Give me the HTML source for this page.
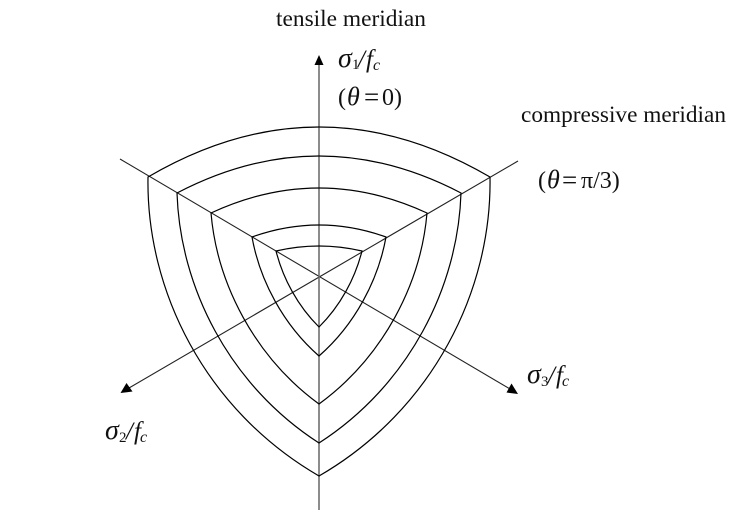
<!DOCTYPE html>
<html>
<head>
<meta charset="utf-8">
<style>
html,body{margin:0;padding:0;background:#fff;width:740px;height:512px;overflow:hidden}
svg{display:block}
text{font-family:"Liberation Serif",serif;fill:#111}
.i{font-style:italic}
</style>
</head>
<body>
<svg width="740" height="512" viewBox="0 0 740 512" xmlns="http://www.w3.org/2000/svg">
<g fill="none" stroke="#222" stroke-width="1.1">
<line x1="120" y1="159" x2="510" y2="389"/>
<line x1="518" y1="161" x2="129" y2="388"/>
</g>
<line x1="319" y1="510" x2="319" y2="64" stroke="#666" stroke-width="1.5"/>
<polygon points="319,55 314.500,65 323.500,65" fill="#000"/>
<polygon points="120.500,393 126.500,383 132.500,391.500" fill="#000"/>
<polygon points="518,394 506.500,392.500 511.500,383.500" fill="#000"/>
<g transform="translate(319,277)" fill="none" stroke="#000" stroke-width="1.2">
<path d="M-171,-100 Q0,-200 171,-100 C173,13 114,133 0,199 C-114,133 -173,13 -171,-100Z"/>
<path d="M-142,-84 Q0,-158 142,-84 C139,10 90,108 0,166 C-90,108 -139,10 -142,-84Z"/>
<path d="M-108,-64 Q0,-114 108,-64 C102,6.400 64.400,80 0,127 C-64.400,80 -102,6.400 -108,-64Z"/>
<path d="M-67,-40 Q0,-64 67,-40 C59.300,3 36,47.600 0,79 C-36,47.600 -59.300,3 -67,-40Z"/>
<path d="M-43,-26 Q0,-36 43,-26 C36,1.600 21.300,29 0,50 C-21.300,29 -36,1.600 -43,-26Z"/>
</g>
<text x="276" y="26" font-size="23" textLength="150" lengthAdjust="spacingAndGlyphs">tensile meridian</text>
<text x="521" y="122" font-size="23" textLength="205" lengthAdjust="spacingAndGlyphs">compressive meridian</text>
<text x="338" y="67" font-size="28" class="i">σ</text>
<text x="352" y="69" font-size="15">1</text>
<text x="358" y="67" font-size="25" class="i">/</text>
<text x="366" y="67" font-size="25" class="i">f</text>
<text x="373" y="70" font-size="16" class="i">c</text>
<text x="338" y="105" font-size="24">(</text>
<text x="347" y="105" font-size="26" class="i">θ</text>
<text x="364" y="106" font-size="27">=</text>
<text x="382" y="105" font-size="24">0)</text>
<text x="538" y="188" font-size="24">(</text>
<text x="547" y="188" font-size="26" class="i">θ</text>
<text x="562" y="189" font-size="27">=</text>
<text x="581" y="188" font-size="24">π/3)</text>
<text x="105" y="439" font-size="28" class="i">σ</text>
<text x="119" y="442" font-size="15">2</text>
<text x="126" y="439" font-size="25" class="i">/</text>
<text x="134" y="439" font-size="25" class="i">f</text>
<text x="140" y="442" font-size="16" class="i">c</text>
<text x="527" y="383" font-size="28" class="i">σ</text>
<text x="541" y="386" font-size="15">3</text>
<text x="548" y="383" font-size="25" class="i">/</text>
<text x="556" y="383" font-size="25" class="i">f</text>
<text x="562" y="386" font-size="16" class="i">c</text>
</svg>
</body>
</html>
